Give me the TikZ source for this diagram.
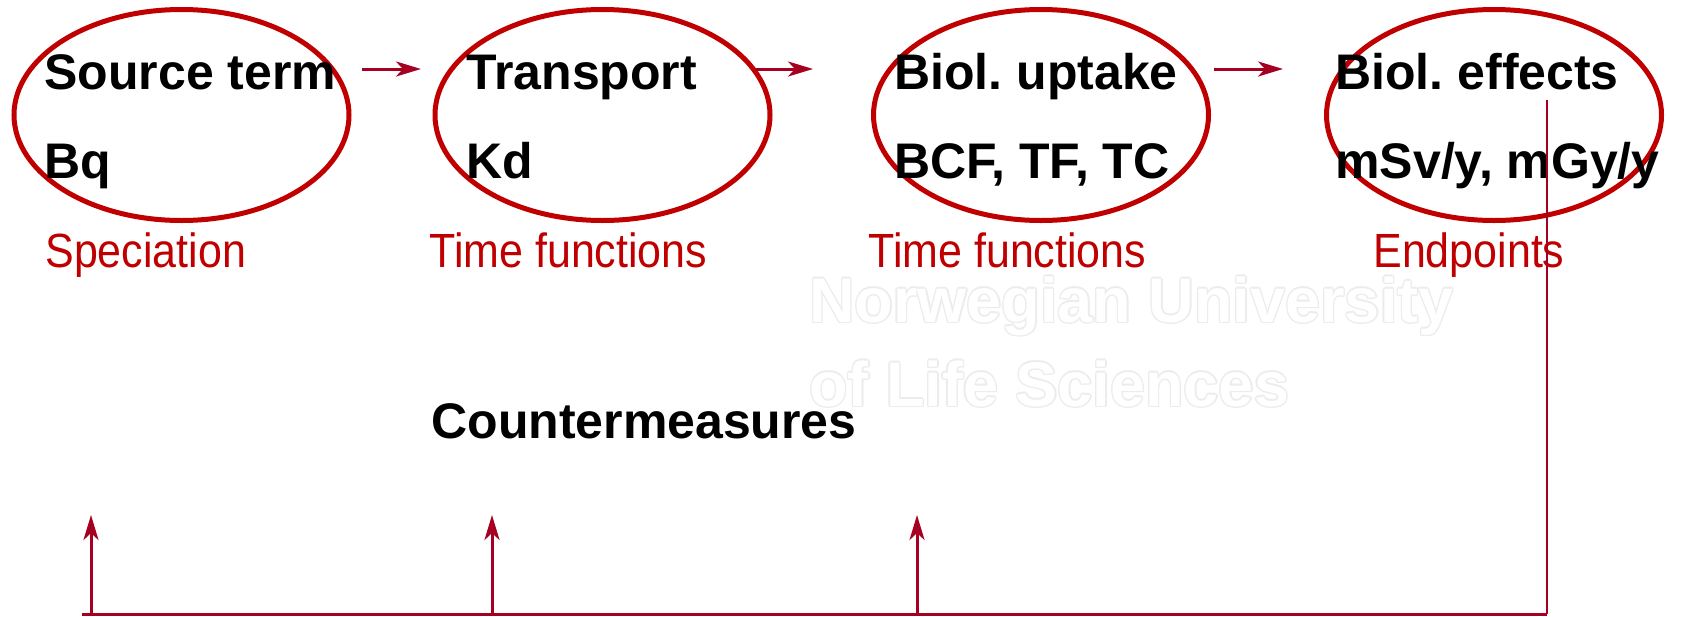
\documentclass[tikz,border=0pt]{standalone}
\usepackage{fontspec}
\setmainfont{Liberation Sans}
\newfontfamily\narrowsans{Liberation Sans}[FakeStretch=0.895]
\usetikzlibrary{arrows.meta,shapes.geometric}
\frenchspacing

\definecolor{ringred}{RGB}{192,0,0}
\definecolor{flowred}{RGB}{165,0,33}
\definecolor{halo}{RGB}{236,236,236}

% white lettering with a faint grey rim
\newcommand\haloed[1]{%
  \leavevmode
  \rlap{\color{halo}\kern0.7pt#1}%
  \rlap{\color{halo}\kern-0.7pt#1}%
  \rlap{\color{halo}\raisebox{0.7pt}{#1}}%
  \rlap{\color{halo}\raisebox{-0.7pt}{#1}}%
  \rlap{\color{halo}\kern0.5pt\raisebox{0.5pt}{#1}}%
  \rlap{\color{halo}\kern-0.5pt\raisebox{0.5pt}{#1}}%
  \rlap{\color{halo}\kern0.5pt\raisebox{-0.5pt}{#1}}%
  \rlap{\color{halo}\kern-0.5pt\raisebox{-0.5pt}{#1}}%
  {\color{white}#1}}

\begin{document}
\begin{tikzpicture}[x=0.5pt,y=-0.5pt,
  ring/.style={draw=ringred, line width=2.5pt, ellipse, inner sep=0pt,
    minimum width=167.5pt, minimum height=105.5pt},
  stage/.style={font=\bfseries\fontsize{25pt}{30pt}\selectfont,
    anchor=base west, inner sep=0pt},
  note/.style={font=\narrowsans\fontsize{24pt}{28pt}\selectfont,
    text=ringred, anchor=base west, inner sep=0pt},
  wmark/.style={font=\bfseries\fontsize{31.5pt}{36pt}\selectfont,
    anchor=base west, inner sep=0pt},
  flow/.style={draw=flowred, line width=1.5pt,
    -{Stealth[length=12.5pt,width=7.5pt,inset=3.5pt]}},
  loopline/.style={draw=flowred, line width=1.5pt}
]
\useasboundingbox (0,0) rectangle (1701,616);
\fill[white] (0,0) rectangle (1701,616);

% institution name behind the diagram
\node[wmark] (uni1) at (809,322) {\haloed{Norwegian University}};
\node[wmark] (uni2) at (809,406) {\haloed{of Life Sciences}};

% the four stages
\node[ring] (e1) at (181.5,115) {};
\node[ring] (e2) at (602.5,115) {};
\node[ring] (e3) at (1041,115) {};
\node[ring] (e4) at (1494,115) {};

\node[stage] (s1a) at (44,89)  {Source term};
\node[stage] (s1b) at (44,178) {Bq};
\node[stage] (s2a) at (466,89)  {Transport};
\node[stage] (s2b) at (466,178) {Kd};
\node[stage] (s3a) at (894,89)  {Biol. uptake};
\node[stage] (s3b) at (894,178) {BCF, TF, TC};
\node[stage] (s4a) at (1335,89)  {Biol. effects};
\node[stage] (s4b) at (1335,178) {mSv/y, mGy/y};

\node[note] (n1) at (45,267)   {Speciation};
\node[note] (n2) at (429,267)  {Time functions};
\node[note] (n3) at (868,267)  {Time functions};
\node[note] (n4) at (1373,267) {Endpoints};

\node[stage] (cm) at (431,438) {Countermeasures};

% forward chain
\coordinate (a1s) at (362,69);  \coordinate (a1e) at (421,69);
\coordinate (a2s) at (755,69);  \coordinate (a2e) at (813,69);
\coordinate (a3s) at (1214,69); \coordinate (a3e) at (1283,69);
\draw[flow] (a1s) -- (a1e);
\draw[flow] (a2s) -- (a2e);
\draw[flow] (a3s) -- (a3e);

% feedback loop back to the earlier stages
\coordinate (fbtop) at (1547,100);
\coordinate (fbcorner) at (1547,614);
\coordinate (fbleft) at (82,614);
\draw[draw=flowred, line width=1pt] (fbtop) -- (fbcorner);
\draw[loopline] (fbcorner) -- (fbleft);

\coordinate (u1) at (91,614);  \coordinate (u1t) at (91,515);
\coordinate (u2) at (492,614); \coordinate (u2t) at (492,515);
\coordinate (u3) at (917,614); \coordinate (u3t) at (917,515);
\draw[flow] (u1) -- (u1t);
\draw[flow] (u2) -- (u2t);
\draw[flow] (u3) -- (u3t);
\end{tikzpicture}
\end{document}
